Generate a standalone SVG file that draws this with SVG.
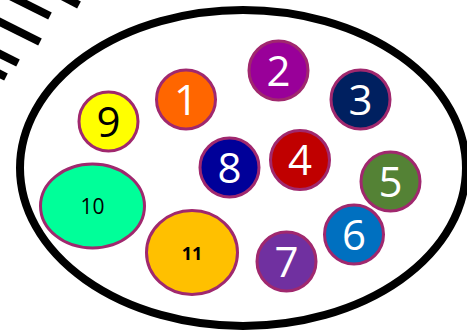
<svg xmlns="http://www.w3.org/2000/svg" width="467" height="331" viewBox="0 0 467 331">
<style>
.n{stroke:#A0286E;stroke-width:3}
.t{font-family:"Open Sans","Liberation Sans",sans-serif;font-size:42px;fill:#fff;text-anchor:middle}
.k{fill:#000}
.s{font-family:"Open Sans","Liberation Sans",sans-serif;fill:#000;text-anchor:middle}
.d{stroke:#000;stroke-width:8;stroke-linecap:butt}
</style>
<rect width="467" height="331" fill="#fff"/>
<g id="hatch">
<line class="d" x1="60" y1="-5" x2="79" y2="5"/>
<line class="d" x1="10" y1="-4" x2="50" y2="16"/>
<line class="d" x1="-10" y1="17" x2="40" y2="42"/>
<line class="d" x1="-10" y1="49" x2="18" y2="63"/>
<line class="d" x1="-10" y1="69" x2="6" y2="77"/>
</g>
<g id="boundary">
<ellipse cx="243" cy="168" rx="223" ry="158" fill="#fff" stroke="#000" stroke-width="8"/>
</g>
<g id="connectors"></g>
<g id="n9"><circle class="n" cx="108.5" cy="121.5" r="29.5" fill="#FFFF00"/><text class="t k" x="108.5" y="136.5">9</text></g>
<g id="n1"><circle class="n" cx="186" cy="99.5" r="29.5" fill="#FF6600"/><text class="t" x="186" y="114.5">1</text></g>
<g id="n2"><circle class="n" cx="278.5" cy="70.5" r="29.5" fill="#990099"/><text class="t" x="278.5" y="85.5">2</text></g>
<g id="n3"><circle class="n" cx="360.5" cy="99.5" r="29.5" fill="#002060"/><text class="t" x="360.5" y="114.5">3</text></g>
<g id="n8"><circle class="n" cx="229.5" cy="167.5" r="29.5" fill="#000099"/><text class="t" x="229.5" y="182.5">8</text></g>
<g id="n4"><circle class="n" cx="300" cy="160" r="29.5" fill="#C00000"/><text class="t" x="300" y="175">4</text></g>
<g id="n5"><circle class="n" cx="390.5" cy="181.5" r="29.5" fill="#548235"/><text class="t" x="390.5" y="196.5">5</text></g>
<g id="n6"><circle class="n" cx="354" cy="234.5" r="29.5" fill="#0070C0"/><text class="t" x="354" y="249.5">6</text></g>
<g id="n7"><circle class="n" cx="286.5" cy="261.5" r="29.5" fill="#7030A0"/><text class="t" x="286.5" y="276.5">7</text></g>
<g id="n10"><ellipse class="n" cx="92.5" cy="206" rx="52" ry="42" fill="#00FF99"/><text class="s" x="92.5" y="214" font-size="21">10</text></g>
<g id="n11"><ellipse class="n" cx="192" cy="252.5" rx="45.5" ry="42" fill="#FFC000"/><text class="s" x="192" y="259.5" font-size="18" font-weight="bold">11</text></g>
</svg>
